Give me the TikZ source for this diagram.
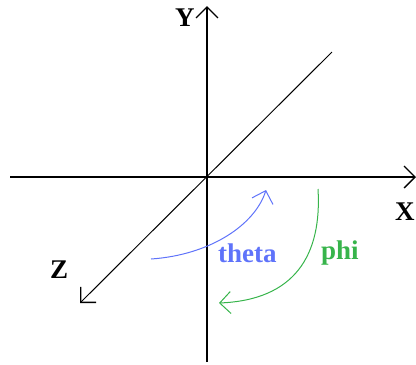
\documentclass[tikz,border=0pt]{standalone}
\usepackage{fontspec}
\newfontfamily\labelfont{Liberation Serif}
\usetikzlibrary{arrows.meta}
\definecolor{thetablue}{RGB}{95,115,250}
\definecolor{phigreen}{RGB}{55,180,75}
\begin{document}
\begin{tikzpicture}[x=1pt, y=-1pt,
    axis/.style={line width=1.3pt, -{Straight Barb[length=11pt,width=22pt]}},
    zaxis/.style={line width=1pt, -{Straight Barb[length=11pt,width=22pt,line width=1.3pt]}},
    turn/.style={line width=1pt, -{Straight Barb[length=11pt,width=22pt]}},
    lbl/.style={anchor=base west, inner sep=0pt, font=\labelfont\bfseries\fontsize{27}{30}\selectfont}]
    \useasboundingbox (0,0) rectangle (416,365);
    % axes
    \coordinate (Xl) at (10,177);
    \coordinate (Xr) at (416,177);
    \coordinate (Yb) at (207,362);
    \coordinate (Yt) at (207,6);
    \coordinate (Zb) at (332,52);
    \coordinate (Zt) at (80,303);
    \draw[axis] (Xl) -- (Xr);
    \draw[axis] (Yb) -- (Yt);
    \draw[zaxis] (Zb) -- (Zt);
    \node[lbl] (ylbl) at (175,26) {Y};
    \node[lbl] (xlbl) at (395,220) {X};
    \node[lbl] (zlbl) at (50,278) {Z};
    % angles
    \coordinate (T1) at (151,259);
    \coordinate (T2) at (266,190);
    \coordinate (P1) at (318,189);
    \coordinate (P2) at (219,303);
    \draw[turn, thetablue] (T1) .. controls (210,255) and (255,225) .. (T2);
    \draw[turn, phigreen] (P1) .. controls (322,255) and (295,300) .. (P2);
    \node[lbl, text=thetablue] (theta) at (218,262) {theta};
    \node[lbl, text=phigreen] (phi) at (321,259) {phi};
\end{tikzpicture}
\end{document}
